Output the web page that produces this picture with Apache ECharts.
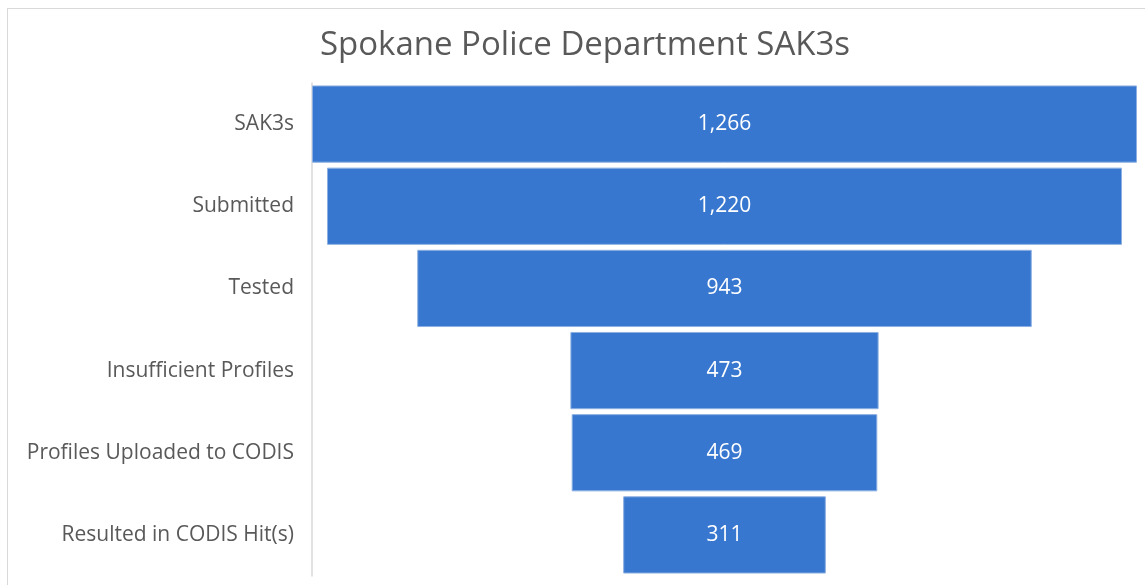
<!DOCTYPE html>
<html>
<head>
<meta charset="utf-8">
<script src="https://cdn.jsdelivr.net/npm/echarts@6/dist/echarts.min.js"></script>
<style>
  html, body { margin: 0; padding: 0; background: #fff; }
  #frame {
    position: absolute; left: 7px; top: 8px; width: 1150px; height: 590px;
    border: 1px solid #d9d9d9; box-sizing: border-box;
  }
  #chart { position: absolute; left: 0; top: 0; width: 1145px; height: 585px; }
</style>
</head>
<body>
<div id="frame"></div>
<div id="chart"></div>
<script>
const stages = ["SAK3s", "Submitted", "Tested", "Insufficient Profiles", "Profiles Uploaded to CODIS", "Resulted in CODIS Hit(s)"];
const counts = [1266, 1220, 943, 473, 469, 311];

const maxCount = Math.max(...counts);
// invisible padding so each bar sits centred, like an Excel funnel
const offsets = counts.map(v => (maxCount - v) / 2);

const chart = echarts.init(document.getElementById("chart"));
chart.setOption({
  animation: false,
  title: {
    text: "Spokane Police Department SAK3s",
    left: 580,
    top: 24,
    textAlign: "center",
    textStyle: { fontFamily: "Open Sans", fontSize: 33, fontWeight: "normal", color: "#595959" },
  },
  grid: { left: 312, right: 8, top: 83, bottom: 9 },
  xAxis: { type: "value", min: 0, max: maxCount, show: false },
  yAxis: {
    type: "category",
    inverse: true,
    data: stages,
    axisLine: { lineStyle: { color: "#d9d9d9", width: 1.5 } },
    axisTick: { show: false },
    axisLabel: { margin: 18, fontFamily: "Open Sans", fontSize: 21, color: "#595959" },
  },
  series: [
    {
      type: "bar",
      stack: "funnel",
      data: offsets,
      itemStyle: { color: "transparent" },
      barCategoryGap: "6%",
      silent: true,
    },
    {
      type: "bar",
      stack: "funnel",
      data: counts,
      barCategoryGap: "6%",
      itemStyle: { color: "#3877cf", borderColor: "#8db0e2", borderWidth: 1 },
      label: {
        show: true,
        position: "inside",
        color: "#ffffff",
        fontFamily: "Open Sans",
        fontSize: 21,
        formatter: p => p.value.toLocaleString("en-US"),
      },
    },
  ],
});
</script>
</body>
</html>
